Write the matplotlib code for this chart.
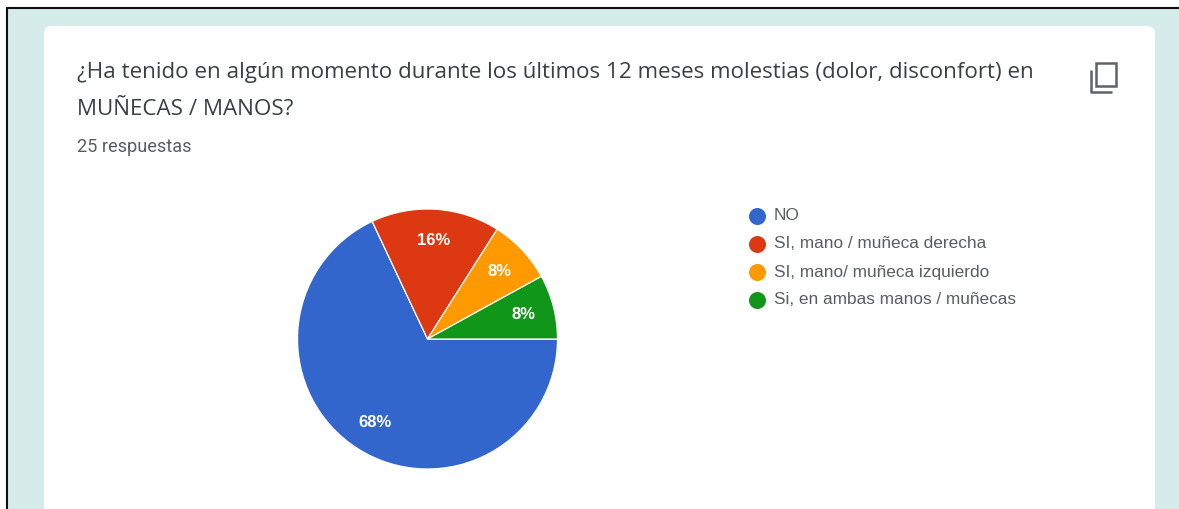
import matplotlib.pyplot as plt
from matplotlib.patches import FancyBboxPatch, Rectangle

WIDTH, HEIGHT = 1179, 509

TITLE_LINES = [
    "¿Ha tenido en algún momento durante los últimos 12 meses molestias (dolor, disconfort) en",
    "MUÑECAS / MANOS?",
]
SUBTITLE = "25 respuestas"
CATEGORIES = [
    "NO",
    "SI, mano / muñeca derecha",
    "SI, mano/ muñeca izquierdo",
    "Si, en ambas manos / muñecas",
]
PERCENTS = [68, 16, 8, 8]
COLORS = ["#3366cc", "#dc3912", "#ff9900", "#109618"]

PAGE_BG = "#d6ecea"
TEXT_DARK = "#3c4043"
TEXT_GREY = "#5a5d60"
ICON_GREY = "#5f6368"

fig = plt.figure(figsize=(WIDTH / 100, HEIGHT / 100), dpi=100, facecolor="white")

# Full-figure axes in pixel units for the page furniture.
page = fig.add_axes([0, 0, 1, 1])
page.set_xlim(0, WIDTH)
page.set_ylim(HEIGHT, 0)
page.axis("off")

page.add_patch(Rectangle((7, 8), WIDTH, HEIGHT, facecolor=PAGE_BG, edgecolor="none"))
page.plot([7, 7], [HEIGHT, 8], color="#111111", lw=1.5, solid_capstyle="butt")
page.plot([6, WIDTH], [8, 8], color="#111111", lw=1.5, solid_capstyle="butt")

# Card, running off the bottom of the page.
page.add_patch(
    FancyBboxPatch(
        (52, 34),
        1095,
        HEIGHT + 40,
        boxstyle="round,pad=8,rounding_size=8",
        facecolor="white",
        edgecolor="none",
    )
)

page.text(77, 72, TITLE_LINES[0], fontsize=16.1, family="Open Sans", color=TEXT_DARK, va="center")
page.text(77, 109, TITLE_LINES[1], fontsize=16.1, family="Open Sans", color=TEXT_DARK, va="center")
page.text(77, 147, SUBTITLE, fontsize=13.1, family="Roboto", color=TEXT_GREY, va="center")

# Copy icon, top right of the card.
page.add_patch(
    Rectangle((1096, 63), 20, 23, facecolor="none", edgecolor=ICON_GREY, lw=1.8)
)
page.plot([1091, 1091, 1112], [70, 92, 92], color=ICON_GREY, lw=1.8, solid_capstyle="butt")

# Legend
for i, (label, color) in enumerate(zip(CATEGORIES, COLORS)):
    y = 216 + 28 * i
    page.scatter([757], [y], s=150, color=color, linewidths=0)
    page.text(774, y, label, fontsize=12.4, family="Liberation Sans", color=TEXT_GREY, va="center")

# Pie, clockwise from 3 o'clock.
cx, cy, radius = 427.5, 339, 130
pie_ax = fig.add_axes(
    [
        (cx - radius) / WIDTH,
        1 - (cy + radius) / HEIGHT,
        2 * radius / WIDTH,
        2 * radius / HEIGHT,
    ]
)
wedges, _, autotexts = pie_ax.pie(
    PERCENTS,
    colors=COLORS,
    startangle=0,
    counterclock=False,
    radius=1,
    autopct="%d%%",
    pctdistance=0.76,
    wedgeprops={"edgecolor": "white", "linewidth": 0.9},
    textprops={"family": "Liberation Sans", "fontsize": 12, "color": "white"},
)
pie_ax.set_xlim(-1, 1)
pie_ax.set_ylim(-1, 1)
for t in autotexts:
    t.set_fontweight("bold")

fig.savefig("out.png", dpi=100, facecolor="white")
plt.close(fig)
